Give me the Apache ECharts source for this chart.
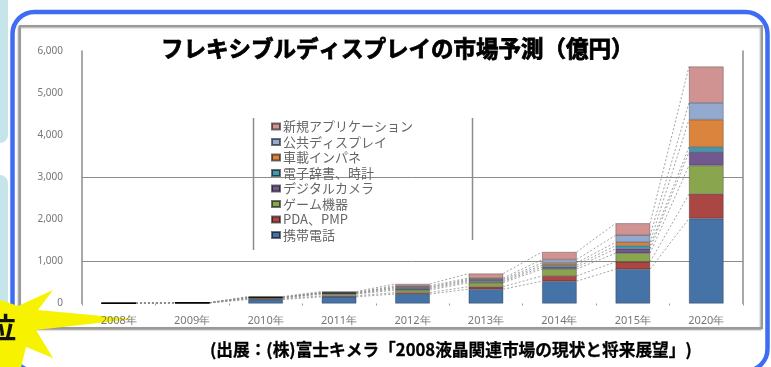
<!DOCTYPE html>
<html>
<head>
<meta charset="utf-8">
<script src="https://cdn.jsdelivr.net/npm/echarts@6/dist/echarts.min.js"></script>
<style>
  html, body { margin: 0; padding: 0; background: #ffffff; }
  #chart { width: 771px; height: 367px; }
</style>
</head>
<body>
<div id="chart"></div>
<script>
// Flexible display market forecast (100 million yen), stacked by application
const categories = ['2008年', '2009年', '2010年', '2011年', '2012年', '2013年', '2014年', '2015年', '2020年'];

const mobilePhone   = [5, 12, 95, 160, 225, 340, 530, 815, 2020];   // 携帯電話
const pdaPmp        = [1, 3, 15, 22, 35, 60, 125, 175, 580];        // PDA、PMP
const gameDevice    = [1, 2, 20, 40, 60, 95, 165, 205, 680];        // ゲーム機器
const digitalCamera = [0, 1, 10, 15, 30, 30, 45, 105, 320];         // デジタルカメラ
const dictWatch     = [0, 1, 5, 10, 25, 25, 45, 75, 120];           // 電子辞書、時計
const carPanel      = [0, 0, 3, 8, 20, 25, 55, 80, 650];            // 車載インパネ
const publicDisplay = [0, 0, 5, 10, 25, 30, 80, 165, 400];          // 公共ディスプレイ
const newApps       = [0, 1, 12, 20, 45, 105, 180, 285, 860];       // 新規アプリケーション

// bottom-to-top stacking order
const seriesNames = ['携帯電話', 'PDA、PMP', 'ゲーム機器', 'デジタルカメラ', '電子辞書、時計', '車載インパネ', '公共ディスプレイ', '新規アプリケーション'];
const seriesValues = [mobilePhone, pdaPmp, gameDevice, digitalCamera, dictWatch, carPanel, publicDisplay, newApps];
const seriesColors = ['#4572A7', '#AA4643', '#89A54E', '#71588F', '#4198AF', '#DB843D', '#93A9CF', '#D19392'];

const yTicks = { min: 0, max: 6000, interval: 1000 };
const BAR_RATIO = 0.47;

const titleText = 'フレキシブルディスプレイの市場予測（億円）';
const sourceText = '(出展：(株)富士キメラ「2008液晶関連市場の現状と将来展望」)';

function cumulativeAt(i) {
  let sum = 0;
  return seriesValues.map(arr => (sum += arr[i]));
}

const barSeries = seriesNames.map((name, k) => ({
  name: name,
  type: 'bar',
  stack: 'market',
  data: seriesValues[k],
  barWidth: (BAR_RATIO * 100) + '%',
  itemStyle: { color: seriesColors[k], borderColor: 'rgba(0,0,0,0.55)', borderWidth: 0.5 },
  z: 3
}));

// dashed connectors between the tops of each stacked segment of neighbouring bars
const connectorSeries = {
  type: 'custom',
  coordinateSystem: 'cartesian2d',
  silent: true,
  z: 2,
  encode: { x: 0, y: 1 },
  data: categories.slice(0, -1).map((c, i) => [i, 0]),
  renderItem: function (params, api) {
    const i = api.value(0);
    const half = api.size([1, 0])[0] * BAR_RATIO / 2;
    const from = cumulativeAt(i);
    const to = cumulativeAt(i + 1);
    return {
      type: 'group',
      children: from.map((v, k) => {
        const p1 = api.coord([i, v]);
        const p2 = api.coord([i + 1, to[k]]);
        return {
          type: 'line',
          shape: { x1: p1[0] + half, y1: p1[1], x2: p2[0] - half, y2: p2[1] },
          style: { stroke: '#8a8a8a', lineWidth: 0.8, lineDash: [2, 2] }
        };
      })
    };
  }
};

const chart = echarts.init(document.getElementById('chart'), null, { renderer: 'canvas' });

chart.setOption({
  animation: false,
  backgroundColor: '#ffffff',
  title: [
    {
      text: titleText,
      left: 156, top: 32,
      textStyle: { fontFamily: 'Noto Sans CJK JP', fontSize: 22.5, fontWeight: 'bold', color: '#000',
                   textBorderColor: '#000', textBorderWidth: 0.8 }
    },
    {
      text: sourceText,
      left: 205, top: 336,
      textStyle: { fontFamily: 'Noto Sans CJK JP', fontSize: 16.7, fontWeight: 'bold', color: '#000',
                   textBorderColor: '#000', textBorderWidth: 0.3 }
    }
  ],
  legend: {
    orient: 'vertical',
    left: 266, top: 115,
    data: seriesNames.slice().reverse(),
    icon: 'rect',
    itemWidth: 8, itemHeight: 6,
    itemGap: 2.5,
    textStyle: { fontFamily: 'Noto Sans CJK JP', fontSize: 13, lineHeight: 12, color: '#666', padding: [0, 0, 0, -2] },
    selectedMode: false
  },
  grid: { left: 82, right: 28, top: 51, bottom: 63.5 },
  xAxis: {
    type: 'category',
    data: categories,
    axisLine: { show: false },
    axisTick: { show: true, length: 2, lineStyle: { color: '#999' } },
    axisLabel: { fontFamily: 'Noto Sans', fontSize: 11, color: '#777', margin: 12 }
  },
  yAxis: [
    {
      type: 'value',
      min: yTicks.min, max: yTicks.max, interval: yTicks.interval,
      axisLine: { show: true, lineStyle: { color: '#8c8c8c', width: 1.5 } },
      axisTick: { show: false },
      axisLabel: {
        fontFamily: 'Noto Sans', fontSize: 10, color: '#777', margin: 19,
        formatter: v => v.toLocaleString('en-US')
      },
      splitLine: {
        show: true,
        lineStyle: { color: ['transparent', '#8c8c8c', 'transparent', '#8c8c8c', 'transparent', 'transparent', 'transparent'], width: 1 }
      }
    },
    {
      type: 'value',
      position: 'right',
      min: yTicks.min, max: yTicks.max, interval: yTicks.interval,
      axisLine: { show: true, lineStyle: { color: '#8c8c8c', width: 1.5 } },
      axisTick: { show: false },
      axisLabel: { show: false },
      splitLine: { show: false }
    }
  ],
  graphic: [
    // side panels
    { type: 'rect', z: -10, shape: { x: -20, y: -20, width: 28, height: 163, r: 8 }, style: { fill: '#c6e5ea' } },
    { type: 'rect', z: -10, shape: { x: -20, y: 175, width: 28, height: 220, r: 8 }, style: { fill: '#c6e5ea' } },
    // blue rounded frame
    { type: 'rect', z: -9, shape: { x: 12.5, y: 12, width: 755, height: 359, r: 22 },
      style: { fill: '#ffffff', stroke: '#3f6cf5', lineWidth: 4.5 } },
    // inner grey frame
    { type: 'rect', z: -8, shape: { x: 20, y: 26, width: 742, height: 302 },
      style: { fill: '#ffffff', stroke: '#9a9a9a', lineWidth: 2, shadowColor: 'rgba(0,0,0,0.35)', shadowBlur: 2, shadowOffsetX: -1, shadowOffsetY: 1 } },
    // legend side rules
    { type: 'line', z: 1, shape: { x1: 253.5, y1: 118, x2: 253.5, y2: 250 }, style: { stroke: '#8c8c8c', lineWidth: 1.5 } },
    { type: 'line', z: 1, shape: { x1: 472.5, y1: 118, x2: 472.5, y2: 240 }, style: { stroke: '#8c8c8c', lineWidth: 1.5 } },
    // yellow burst with caption
    { type: 'polygon', z: -5,
      shape: { points: [[-5, 298], [18, 306], [53, 290], [38, 310], [134, 319], [36, 330], [53, 358], [26, 347], [20, 372], [-5, 372]] },
      style: { fill: '#f7f200' } },
    { type: 'text', z: 21, style: { text: '位', x: -13, y: 328, fontFamily: 'Noto Sans CJK JP', fontSize: 29, fontWeight: 'bold',
      fill: '#111', verticalAlign: 'middle', textAlign: 'left' } }
  ],
  series: barSeries.concat([connectorSeries])
});
</script>
</body>
</html>
